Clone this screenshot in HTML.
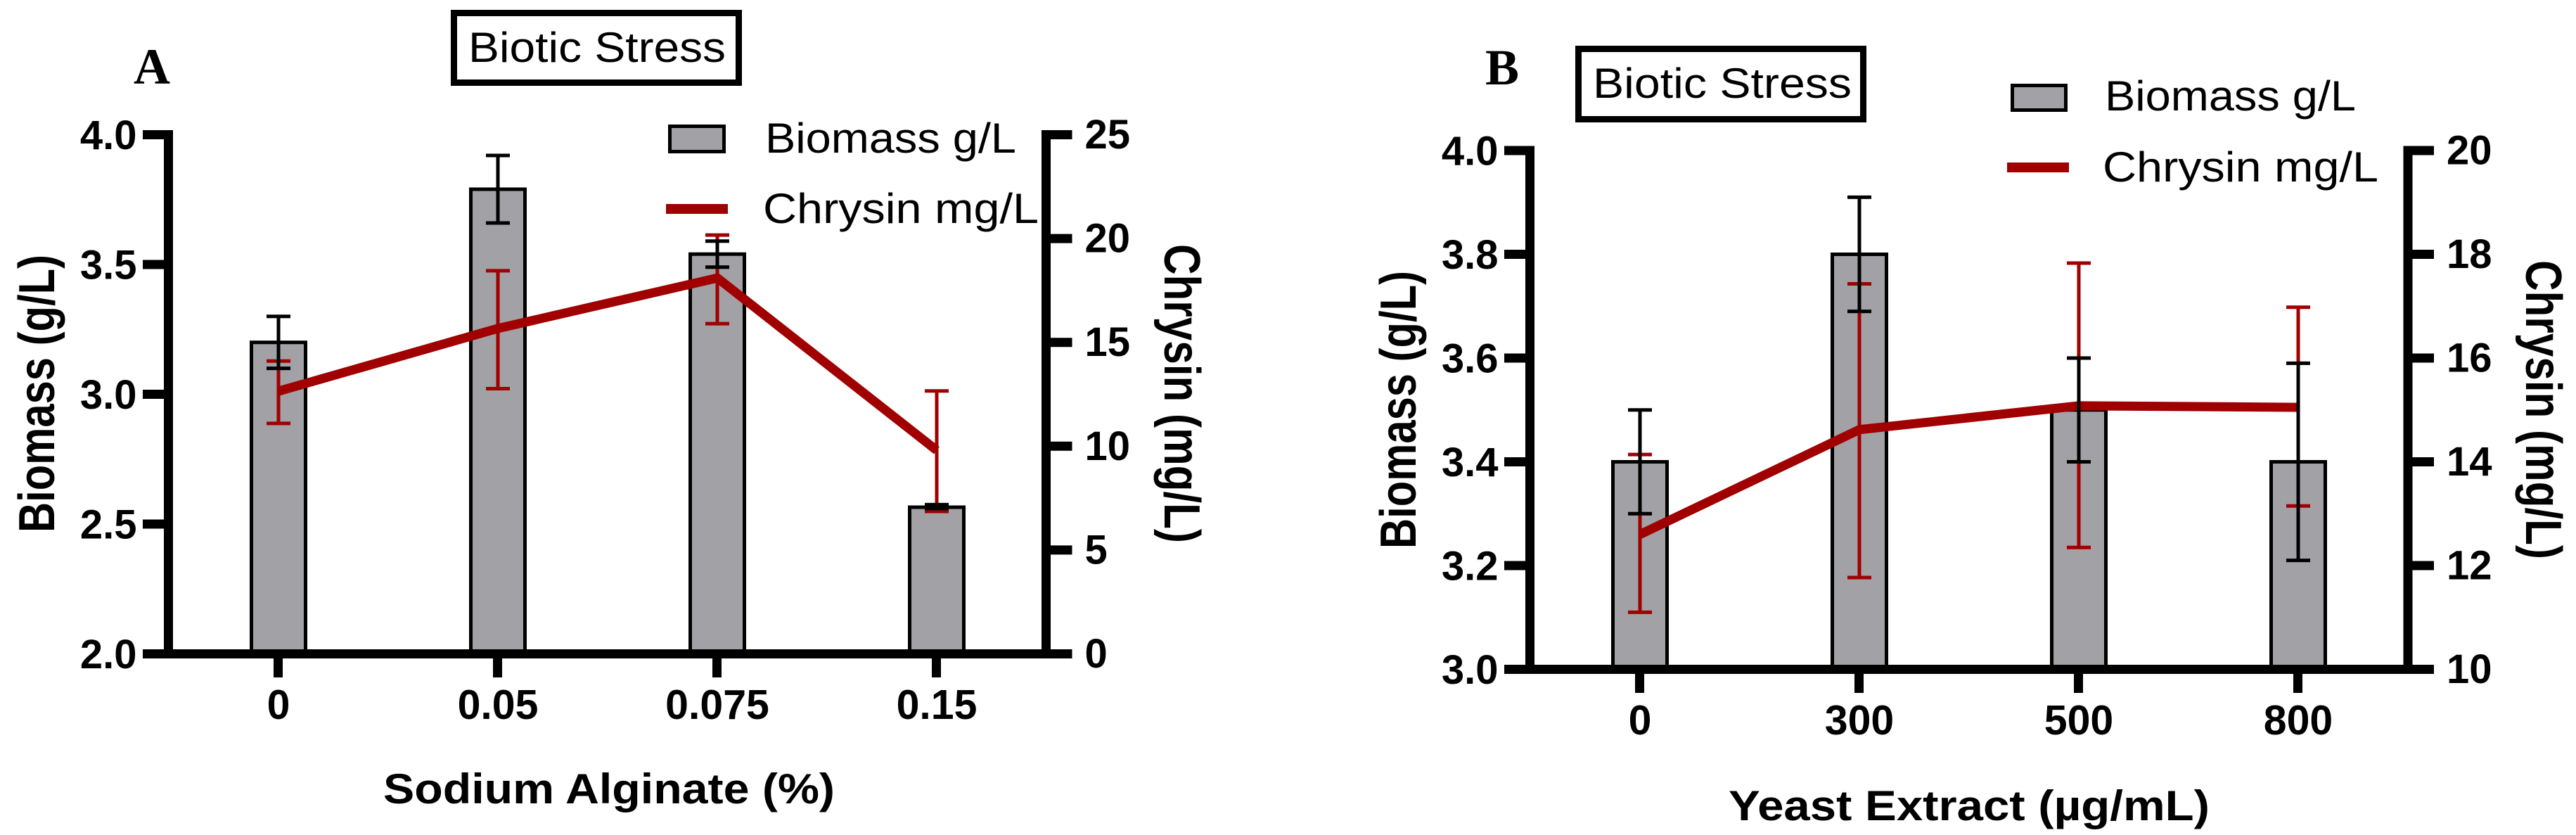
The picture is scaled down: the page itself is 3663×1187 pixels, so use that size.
<!DOCTYPE html>
<html lang="en">
<head>
<meta charset="utf-8">
<title>Biotic Stress: Biomass and Chrysin</title>
<style>
html,body{margin:0;padding:0;background:#fff;}
svg{display:block;}
text{font-family:"Liberation Sans",sans-serif;fill:#000;}
.b{font-weight:bold;}
.letter{font-family:"Liberation Serif",serif;font-weight:bold;font-size:72px;}
</style>
</head>
<body>
<svg id="figure" xmlns="http://www.w3.org/2000/svg" width="3663" height="1187" viewBox="0 0 3663 1187">
  <rect x="0" y="0" width="3663" height="1187" fill="#fff"/>

  <g id="panelA">
    <text class="letter" x="190" y="119">A</text>
    <rect x="645.5" y="18.5" width="405" height="99" fill="#fff" stroke="#000" stroke-width="9"/>
    <text x="666" y="88" font-size="60" textLength="366" lengthAdjust="spacingAndGlyphs">Biotic Stress</text>
    <text class="b" x="545" y="1142" font-size="60" textLength="642" lengthAdjust="spacingAndGlyphs">Sodium Alginate (%)</text>
    <text class="b" transform="translate(77 757) rotate(-90) scale(1 1.2)" x="0" y="0" font-size="60" textLength="395" lengthAdjust="spacingAndGlyphs">Biomass (g/L)</text>
    <text class="b" transform="translate(1656 347) rotate(90) scale(1 1.2)" x="0" y="0" font-size="60" textLength="425" lengthAdjust="spacingAndGlyphs">Chrysin (mg/L)</text>
    <g>
      <rect x="952.5" y="179.5" width="77" height="36" fill="#a2a1a6" stroke="#000" stroke-width="5"/>
      <text x="1088" y="217" font-size="60" textLength="357" lengthAdjust="spacingAndGlyphs">Biomass g/L</text>
      <rect x="947" y="290" width="88" height="14" fill="#a00000"/>
      <text x="1085" y="317" font-size="60" textLength="392" lengthAdjust="spacingAndGlyphs">Chrysin mg/L</text>
    </g>
  </g>

  <g id="panelB">
    <text class="letter" x="2112" y="120">B</text>
    <rect x="2244.5" y="69.5" width="405" height="100" fill="#fff" stroke="#000" stroke-width="9"/>
    <text x="2265" y="139" font-size="60" textLength="368" lengthAdjust="spacingAndGlyphs">Biotic Stress</text>
    <text class="b" x="2458" y="1166" font-size="60" textLength="684" lengthAdjust="spacingAndGlyphs">Yeast Extract (µg/mL)</text>
    <text class="b" transform="translate(2013 780) rotate(-90) scale(1 1.2)" x="0" y="0" font-size="60" textLength="395" lengthAdjust="spacingAndGlyphs">Biomass (g/L)</text>
    <text class="b" transform="translate(3592 370) rotate(90) scale(1 1.2)" x="0" y="0" font-size="60" textLength="425" lengthAdjust="spacingAndGlyphs">Chrysin (mg/L)</text>
    <g>
      <rect x="2861.5" y="121.5" width="76" height="35" fill="#a2a1a6" stroke="#000" stroke-width="5"/>
      <text x="2993" y="157" font-size="60" textLength="357" lengthAdjust="spacingAndGlyphs">Biomass g/L</text>
      <rect x="2854" y="231" width="88" height="14" fill="#a00000"/>
      <text x="2990" y="258" font-size="60" textLength="392" lengthAdjust="spacingAndGlyphs">Chrysin mg/L</text>
    </g>
  </g>
</svg>

<script>
// Panel A data
var categoriesA = ["0", "0.05", "0.075", "0.15"];
var biomassA = [3.2, 3.79, 3.54, 2.565];
var biomassUpperA = [3.30, 3.92, 3.59, 2.575];
var biomassLowerA = [3.10, 3.66, 3.49, 2.56];
var chrysinA = [12.65, 15.67, 18.1, 9.8];
var chrysinUpperA = [14.1, 18.45, 20.17, 12.66];
var chrysinLowerA = [11.1, 12.77, 15.9, 6.86];
var leftTicksA = ["2.0", "2.5", "3.0", "3.5", "4.0"];
var rightTicksA = ["0", "5", "10", "15", "20", "25"];

// Panel B data
var categoriesB = ["0", "300", "500", "800"];
var biomassB = [3.4, 3.8, 3.5, 3.4];
var biomassUpperB = [3.5, 3.91, 3.6, 3.59];
var biomassLowerB = [3.3, 3.69, 3.4, 3.21];
var chrysinB = [12.6, 14.62, 15.08, 15.05];
var chrysinUpperB = [14.14, 17.43, 17.83, 16.98];
var chrysinLowerB = [11.1, 11.77, 12.35, 13.15];
var leftTicksB = ["3.0", "3.2", "3.4", "3.6", "3.8", "4.0"];
var rightTicksB = ["10", "12", "14", "16", "18", "20"];

var NS = "http://www.w3.org/2000/svg";

function make(parent, tag, attrs) {
  var el = document.createElementNS(NS, tag);
  for (var k in attrs) { el.setAttribute(k, attrs[k]); }
  parent.appendChild(el);
  return el;
}

function drawPanel(parent, prefix, o, d) {
  var leftMin = parseFloat(d.leftTicks[0]);
  var leftMax = parseFloat(d.leftTicks[d.leftTicks.length - 1]);
  var rightMin = parseFloat(d.rightTicks[0]);
  var rightMax = parseFloat(d.rightTicks[d.rightTicks.length - 1]);
  function yLeft(v) { return o.bottom - (v - leftMin) / (leftMax - leftMin) * (o.bottom - o.top); }
  function yRight(v) { return o.bottom - (v - rightMin) / (rightMax - rightMin) * (o.bottom - o.top); }
  function xCat(i) { return o.x0 + i * o.step; }

  var i, el, pts = [];

  // bars
  for (i = 0; i < d.categories.length; i++) {
    el = make(parent, "rect", {
      x: xCat(i) - 38.5, y: yLeft(d.biomass[i]), width: 77,
      height: o.bottom - yLeft(d.biomass[i]),
      fill: "#a2a1a6", stroke: "#000", "stroke-width": 5
    });
    
    
  }

  // chrysin line
  for (i = 0; i < d.chrysin.length; i++) { pts.push(xCat(i) + "," + yRight(d.chrysin[i])); }
  el = make(parent, "polyline", {
    points: pts.join(" "), fill: "none", stroke: "#a00000",
    "stroke-width": 13, "stroke-linejoin": "miter", "stroke-linecap": "butt"
  });
  
  

  function errorBar(cx, yUp, yDown, color, name) {
    var g = make(parent, "g", {stroke: color, fill: "none", "stroke-width": 5});
    
    
    make(g, "line", {x1: cx, x2: cx, y1: yUp, y2: yDown});
    make(g, "line", {x1: cx - 17, x2: cx + 17, y1: yUp, y2: yUp});
    make(g, "line", {x1: cx - 17, x2: cx + 17, y1: yDown, y2: yDown});
  }
  for (i = 0; i < d.categories.length; i++) {
    errorBar(xCat(i), yRight(d.chrysinUpper[i]), yRight(d.chrysinLower[i]), "#a00000", "chrysin-error-bar");
  }
  for (i = 0; i < d.categories.length; i++) {
    errorBar(xCat(i), yLeft(d.biomassUpper[i]), yLeft(d.biomassLower[i]), "#000", "biomass-error-bar");
  }

  // axes
  var axes = make(parent, "g", {stroke: "#000", "stroke-width": 13, fill: "none"});
  
  
  make(axes, "line", {x1: o.leftAxis, x2: o.leftAxis, y1: o.top - 6.5, y2: o.bottom});
  make(axes, "line", {x1: o.rightAxis, x2: o.rightAxis, y1: o.top - 6.5, y2: o.bottom});
  make(axes, "line", {x1: o.leftAxis - 36.5, x2: o.rightAxis + 37, y1: o.bottom, y2: o.bottom});

  // left ticks
  d.leftTicks.forEach(function (t) {
    var y = yLeft(parseFloat(t));
    make(axes, "line", {x1: o.leftAxis - 36.5, x2: o.leftAxis, y1: y, y2: y});
    var label = make(parent, "text", {x: o.leftAxis - 45, y: y + 20.5, "font-size": 58, "text-anchor": "end", "class": "b"});
    label.textContent = t;
    
    
  });

  // right ticks
  d.rightTicks.forEach(function (t) {
    var y = yRight(parseFloat(t));
    make(axes, "line", {x1: o.rightAxis, x2: o.rightAxis + 37, y1: y, y2: y});
    var label = make(parent, "text", {x: o.rightAxis + 55, y: y + 19.5, "font-size": 58, "class": "b"});
    label.textContent = t;
    
    
  });

  // x ticks
  d.categories.forEach(function (c, idx) {
    make(axes, "line", {x1: xCat(idx) - 0.5, x2: xCat(idx) - 0.5, y1: o.bottom, y2: o.bottom + 33.5});
    var label = make(parent, "text", {x: xCat(idx), y: o.bottom + 92.5, "font-size": 59, "text-anchor": "middle", "class": "b"});
    label.textContent = c;
    
    
  });
}

drawPanel(document.getElementById("panelA"), "panel-a",
  {top: 191.5, bottom: 929.5, leftAxis: 239.5, rightAxis: 1487.5, x0: 396, step: 312},
  {categories: categoriesA, biomass: biomassA, biomassUpper: biomassUpperA, biomassLower: biomassLowerA,
   chrysin: chrysinA, chrysinUpper: chrysinUpperA, chrysinLower: chrysinLowerA,
   leftTicks: leftTicksA, rightTicks: rightTicksA});

drawPanel(document.getElementById("panelB"), "panel-b",
  {top: 214, bottom: 951.5, leftAxis: 2175.5, rightAxis: 3424, x0: 2332, step: 312},
  {categories: categoriesB, biomass: biomassB, biomassUpper: biomassUpperB, biomassLower: biomassLowerB,
   chrysin: chrysinB, chrysinUpper: chrysinUpperB, chrysinLower: chrysinLowerB,
   leftTicks: leftTicksB, rightTicks: rightTicksB});
</script>
</body>
</html>
